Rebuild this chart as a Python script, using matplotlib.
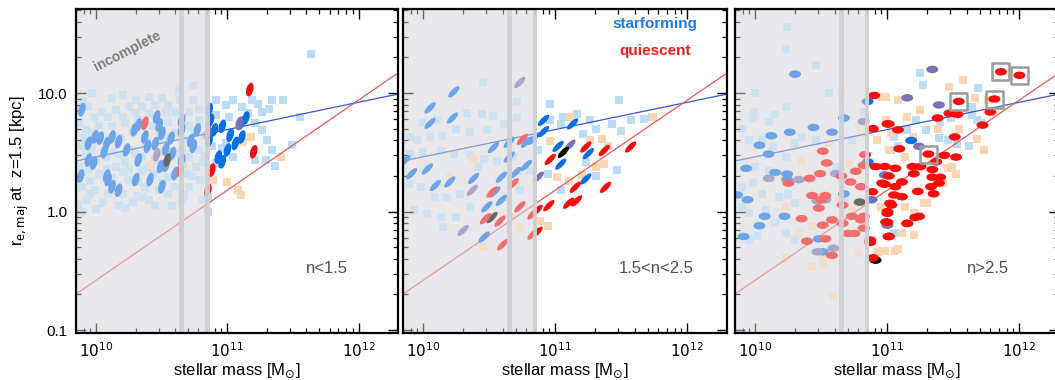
import numpy as np
import matplotlib
matplotlib.use("Agg")
import matplotlib.pyplot as plt
from matplotlib.collections import EllipseCollection
from matplotlib.ticker import FixedLocator, FixedFormatter, NullFormatter

plt.rcParams['font.family'] = ['Liberation Sans', 'DejaVu Sans']

# ---------------- data (log10 stellar mass [Msun], log10 r_e,maj [kpc]) ----------------
# Panel 1 : n<1.5
P1_SQB_LOGM = [10.74,10.74,10.64,10.55,10.45,10.35,10.25,10.15,10.04,9.94,9.99,10.09,10.20,10.30,10.40,10.53,10.60,10.71,10.78,
               9.87,9.92,10.02,10.12,10.22,10.32,10.43,10.55,10.71,10.78,9.89,9.97,10.07,10.17,10.27,10.35,10.45,10.60,10.71,10.78,
               9.87,9.94,10.02,10.15,10.25,10.35,10.43,10.55,10.68,10.76,10.81,9.89,9.99,10.09,10.20,10.25,10.37,10.48,10.60,10.71,10.79,
               10.17,10.35,10.81,10.85,10.85,9.86,
               9.90,10.12,10.30,10.50,9.90,10.05,10.18,10.38,10.52,10.66,10.83,10.00,10.22,10.55,10.66,9.95,10.12,10.32,10.50,
               9.93,10.05,10.28,10.45,10.65,
               9.97,10.20,10.40,10.62,9.97,10.28,10.48,10.60,10.75,9.92,10.12,10.30,10.52,10.65,10.83,
               9.90,10.08,10.20,10.40,10.62,10.73,9.95,10.15,10.31,10.55,10.67,9.88,10.00,10.22,10.40,10.58,
               10.91,10.99,11.04,11.11,11.19,11.23,11.26,11.34,11.32,10.91,11.01,11.16,11.21,11.26,11.30,10.88,10.99,11.04,11.21,11.29,
               11.34,10.91,10.96,11.42,11.55,11.49,11.36,11.64]
P1_SQB_LOGR = [1.07,0.94,0.94,0.90,0.90,0.885,0.885,0.86,0.84,0.885,0.80,0.80,0.80,0.83,0.83,0.83,0.84,0.84,0.87,
               0.745,0.69,0.72,0.72,0.745,0.77,0.72,0.745,0.72,0.77,0.55,0.52,0.46,0.49,0.52,0.46,0.435,0.49,0.46,0.52,
               0.38,0.35,0.32,0.38,0.35,0.35,0.32,0.295,0.32,0.38,0.41,0.21,0.18,0.15,0.15,0.27,0.21,0.18,0.21,0.21,0.27,
               0.055,0.125,0.10,0.125,0.0,0.06,
               0.93,0.95,0.94,0.96,0.62,0.60,0.63,0.58,0.62,0.60,0.64,0.43,0.42,0.45,0.40,0.26,0.28,0.25,0.24,
               0.10,0.07,0.08,0.05,0.10,
               1.00,0.98,0.97,1.02,0.66,0.67,0.68,0.66,0.68,0.48,0.50,0.49,0.50,0.52,0.47,
               0.33,0.36,0.33,0.38,0.35,0.30,0.15,0.17,0.13,0.15,0.14,0.00,0.02,0.03,0.10,0.05,
               0.94,0.90,0.94,0.885,0.94,0.91,0.84,0.94,0.87,0.815,0.80,0.83,0.745,0.69,0.60,0.55,0.575,0.46,0.435,0.435,
               0.52,0.41,0.535,0.94,0.80,0.56,0.385,1.33]
P1_SQO_LOGM = [11.12,11.18,10.42,11.41,10.89,11.00,11.08,11.10]
P1_SQO_LOGR = [0.59,0.63,0.39,0.46,0.27,0.25,0.18,0.14]
P1_SF_LOGM = [9.89,9.94,9.99,10.03,10.08,10.12,10.17,10.23,10.29,10.32,10.37,10.39,10.46,10.48,10.45,10.50,10.53,10.57,10.58,
              10.49,10.53,10.60,10.65,10.65,10.65,10.72,10.74,10.77,9.94,9.98,9.88,10.08,10.12,10.09,10.17,10.30,10.32,10.41,
              10.50,10.06,
              10.86,10.87,10.86,10.90,10.96,10.96,11.00,11.02,11.10,11.14,11.11,11.06,10.93]
P1_SF_LOGR = [0.86,0.575,0.63,0.62,0.575,0.63,0.59,0.52,0.69,0.73,0.63,0.55,0.80,0.73,0.575,0.66,0.53,0.62,0.49,
              0.38,0.39,0.32,0.77,0.69,0.435,0.60,0.55,0.69,0.435,0.41,0.30,0.30,0.21,0.27,0.18,0.27,0.435,0.27,
              0.21,0.505,
              0.86,0.77,0.60,0.69,0.72,0.42,0.52,0.645,0.745,0.79,0.63,0.575,0.46]
P1_Q_LOGM = [11.17,10.88,11.20,10.85,10.37,10.64]
P1_Q_LOGR = [1.03,0.35,0.505,0.18,0.745,0.35]
P1_MIX_LOGM = [10.46,10.85,11.09]
P1_MIX_LOGR = [0.48,0.66,0.745]
P1_BLK_LOGM = [10.54]
P1_BLK_LOGR = [0.435]

# Panel 2 : 1.5<n<2.5
P2_SQB_LOGM = [10.45,10.71,10.96,11.06,11.16,11.26,11.31,11.43,11.48,11.50,11.57,11.67,11.73,10.96,11.04,11.21,11.23,11.47,
               11.31,10.94,11.04,10.87,9.90,10.00,10.10,10.33,10.44,10.53,10.61,10.48,10.35,10.25,10.15,10.05,9.95,9.90,
               10.00,10.13,10.23,10.35,10.46,10.56,10.68,10.72,10.81,9.89,9.98,10.08,10.18,10.28,10.35,10.25,10.13,10.03,
               9.93,10.15,10.73,10.63,10.41,10.71]
P2_SQB_LOGR = [1.09,0.925,0.91,0.80,0.825,0.77,0.70,0.74,0.94,0.68,0.77,0.78,0.80,0.77,0.74,0.655,0.42,0.35,
               0.30,0.32,0.18,0.52,0.63,0.75,0.77,0.83,0.825,0.81,0.74,0.685,0.67,0.70,0.64,0.63,0.60,0.49,
               0.50,0.515,0.49,0.475,0.445,0.43,0.46,0.345,0.345,0.235,0.21,0.12,0.12,0.15,0.04,-0.05,-0.05,-0.02,
               0.01,-0.13,0.18,0.12,0.375,0.79]
P2_SQO_LOGM = [11.11,10.96,11.35,11.26,11.37,11.31,11.01,11.10,10.88,10.94,10.73,10.66,10.38,10.20,11.74,10.45,11.20,11.40]
P2_SQO_LOGR = [0.80,0.595,0.61,0.60,0.40,0.375,0.29,0.26,-0.08,-0.12,-0.13,-0.05,0.445,0.29,0.80,-0.30,0.31,0.55]
P2_SF_LOGM = [10.23,10.05,10.05,10.22,10.53,10.65,10.78,10.83,9.86,9.91,10.03,10.09,10.20,10.38,10.59,10.54,10.59,10.46,
              10.65,10.78,10.70,10.48,10.91,10.91,11.13,11.02,11.04,11.25,11.23]
P2_SF_LOGR = [1.01,0.875,0.745,0.79,0.54,0.585,0.585,0.61,0.43,0.32,0.36,0.22,0.25,0.28,0.29,0.165,0.095,-0.215,
              0.46,0.39,0.33,0.04,0.77,0.675,0.74,0.55,0.40,0.49,0.275]
P2_Q_LOGM = [11.23,11.37,11.57,10.96,11.38,11.15,11.10,11.16,10.95,10.86,10.86,
             10.75,10.52,10.68,10.73,10.58,10.47,10.83,10.83,10.60]
P2_Q_LOGR = [0.545,0.515,0.545,0.44,0.205,0.205,0.07,0.09,0.05,0.01,-0.175,
             0.61,0.165,0.235,0.04,-0.08,-0.06,-0.02,-0.19,-0.28]
P2_MIX_LOGM = [10.73,11.11,10.87,10.37,10.30]
P2_MIX_LOGR = [1.09,0.56,0.29,0.18,-0.16]
P2_BLK_LOGM = [11.06,10.52]
P2_BLK_LOGR = [0.50,-0.05]

# Panel 3 : n>2.5
P3_SQB_LOGM = [10.24,10.23,10.46,10.00,10.56,10.23,9.99,9.98,10.10,10.15,9.90,9.95,10.05,10.13,10.35,10.46,10.30,10.23,
               9.90,9.98,10.05,10.18,10.25,10.30,9.90,9.95,10.08,10.15,9.95,10.01,10.30,10.23,10.82,10.61,10.73,10.10,
               10.25,10.68,10.00,10.43,
               11.25,11.27,11.69,11.64,11.48,11.64,11.68,11.71,11.62,11.53,11.46,11.39,11.22,11.29,11.15,11.05,11.08,
               11.03,11.40,11.05]
P3_SQB_LOGR = [1.56,1.37,1.24,1.00,1.00,0.885,0.84,0.79,0.76,0.815,0.70,0.60,0.60,0.55,0.63,0.60,0.575,0.46,
               0.21,0.24,0.15,0.125,0.15,0.07,0.04,-0.015,0.01,-0.10,-0.24,-0.21,-0.24,-0.185,0.84,0.38,0.60,0.34,
               0.32,0.125,0.38,0.265,
               1.17,1.07,1.04,0.885,0.79,0.815,0.77,0.745,0.55,0.57,0.60,0.62,0.77,0.69,0.69,0.63,0.55,
               0.52,0.76,-0.185]
P3_SQO_LOGM = [10.65,10.81,10.71,10.35,10.56,10.23,10.33,10.43,10.61,10.23,10.43,10.51,10.78,10.73,10.63,10.96,10.99,
               10.92,11.01,10.95,10.96,10.59,10.23,10.51,
               11.47,11.57,11.76,11.66,11.25,11.38,11.54,11.68,11.73,11.52,11.46,11.49,11.42,11.28,11.20,11.13,11.11,
               11.20,11.06,10.98,10.99,11.08,11.15,11.19,11.03,11.13,11.30,11.08,10.93,11.20]
P3_SQO_LOGR = [1.00,0.66,0.41,0.43,0.575,0.04,-0.185,-0.13,-0.30,-0.40,-0.465,-0.41,-0.35,0.04,0.125,0.97,0.77,
               0.60,0.52,0.04,-0.33,-0.72,-0.38,-0.43,
               1.05,1.11,0.94,0.955,0.86,0.70,0.70,0.61,0.52,0.32,0.365,0.38,0.24,0.07,-0.015,0.04,-0.185,
               -0.20,-0.33,-0.33,0.97,0.94,0.80,0.63,0.66,0.46,0.07,-0.32,-0.34,-0.20]
P3_SF_LOGM = [10.30,10.67,10.44,10.58,10.26,10.12,10.03,10.10,9.93,10.15,10.24,10.24,9.86,9.94,10.07,10.22,10.03,9.91,
              10.67,10.48,10.51,10.85,10.85,11.18]
P3_SF_LOGR = [1.16,0.79,0.71,0.67,0.67,0.64,0.56,0.485,0.365,0.33,0.316,0.27,0.14,0.10,-0.04,-0.04,-0.12,-0.21,
              0.15,-0.23,-0.34,0.93,0.42,0.60]
P3_Q_LOGM = [10.51,10.54,10.49,10.41,10.25,10.65,10.72,10.76,10.82,10.83,10.80,10.43,10.53,10.66,10.48,10.50,10.35,
             10.51,10.58,10.66,10.73,10.80,10.82,10.70,10.75,10.39,10.53,10.58,10.82,
             10.90,10.89,11.00,10.91,10.96,11.01,10.885,11.02,11.00,10.99,10.87,11.01,
             11.47,11.53,11.38,11.78,11.72,11.51,11.52,11.43,11.37,11.01,11.08,11.09,11.06,11.19,11.25,11.34,11.20,
             10.98,10.98,11.11,11.06,11.34,11.40,11.39,11.33,11.23,11.35,11.05,11.11,11.03,11.00,11.24,11.15,11.00,
             11.01,11.21,11.15,11.01,10.87,10.89]
P3_Q_LOGR = [0.51,0.41,0.32,0.28,0.24,0.30,0.25,0.34,0.39,0.48,0.21,0.135,0.135,0.055,0.03,0.10,-0.06,
             -0.115,-0.07,-0.10,-0.04,-0.07,-0.14,-0.185,-0.185,-0.25,-0.23,-0.37,-0.04,
             0.98,0.70,0.74,0.38,0.24,0.30,0.167,0.07,0.0,-0.087,-0.24,-0.21,
             0.83,0.82,0.79,0.84,0.73,0.63,0.46,0.475,0.42,0.74,0.69,0.53,0.365,0.38,0.38,0.355,0.32,
             0.38,0.23,0.25,0.21,0.29,0.29,0.24,0.21,0.17,0.15,0.14,0.125,0.055,-0.015,-0.04,-0.10,-0.09,
             -0.21,-0.05,-0.10,-0.21,-0.26,-0.39]
P3_BOX_LOGM = [11.86,12.00,11.54,11.81,11.31]
P3_BOX_LOGR = [1.18,1.15,0.93,0.95,0.485]
P3_MIX_LOGM = [10.82,10.10,10.33,10.47,10.53,10.59,10.47,10.88,10.61,11.34,11.15,11.39,11.24,10.98,11.00]
P3_MIX_LOGR = [0.76,0.28,0.27,0.09,0.10,-0.31,-0.34,0.10,0.32,1.20,0.96,0.90,0.55,0.31,-0.115]
P3_BLK_LOGM = [10.79,10.91]
P3_BLK_LOGR = [0.08,-0.41]

# relations
LINE_LOGM = [9.84, 12.3]
SF_REL = (0.426, 0.23)   # log r at logM=9.84, slope
Q_REL = (-0.70, 0.76)

PANEL_LABELS = ['n<1.5', '1.5<n<2.5', 'n>2.5']

# ---------------- styling ----------------
C_SQB = '#b9ddf6'
C_SQO = '#fbd6b2'
C_SF = '#0a6fe6'
C_Q = '#ff0a0a'
C_MIX = '#7a70b4'
C_BLK = '#000000'
C_GRAY = '#e8e8eb'
C_BAND = '#cfcfd3'

XMIN, XMAX = 10**9.845, 10**12.3
YMIN, YMAX = 10**-1.025, 10**1.71

fig = plt.figure(figsize=(10.55, 3.8), dpi=100)
positions = [(76, 398), (403, 727), (735, 1059)]
axes = []
for (l, r) in positions:
    ax = fig.add_axes([l / 1055, 1 - 333 / 380, (r - l) / 1055, 324 / 380])
    axes.append(ax)


def ell(ax, logm, logr, color, w, h, ang, z):
    offs = np.column_stack([10 ** np.asarray(logm, float), 10 ** np.asarray(logr, float)])
    n = len(offs)
    ec = EllipseCollection(np.full(n, w), np.full(n, h), np.full(n, ang), units='dots',
                           offsets=offs, offset_transform=ax.transData,
                           facecolors=color, edgecolors='none', zorder=z)
    ax.add_collection(ec)


panels = [
    dict(sqb=(P1_SQB_LOGM, P1_SQB_LOGR), sqo=(P1_SQO_LOGM, P1_SQO_LOGR), sf=(P1_SF_LOGM, P1_SF_LOGR),
         q=(P1_Q_LOGM, P1_Q_LOGR), mix=(P1_MIX_LOGM, P1_MIX_LOGR), blk=(P1_BLK_LOGM, P1_BLK_LOGR),
         shape=(7, 14, -15)),
    dict(sqb=(P2_SQB_LOGM, P2_SQB_LOGR), sqo=(P2_SQO_LOGM, P2_SQO_LOGR), sf=(P2_SF_LOGM, P2_SF_LOGR),
         q=(P2_Q_LOGM, P2_Q_LOGR), mix=(P2_MIX_LOGM, P2_MIX_LOGR), blk=(P2_BLK_LOGM, P2_BLK_LOGR),
         shape=(15, 5.5, 45)),
    dict(sqb=(P3_SQB_LOGM, P3_SQB_LOGR), sqo=(P3_SQO_LOGM, P3_SQO_LOGR), sf=(P3_SF_LOGM, P3_SF_LOGR),
         q=(P3_Q_LOGM + P3_BOX_LOGM, P3_Q_LOGR + P3_BOX_LOGR), mix=(P3_MIX_LOGM, P3_MIX_LOGR),
         blk=(P3_BLK_LOGM, P3_BLK_LOGR), shape=(12, 7.5, 0)),
]

lm = np.array(LINE_LOGM)
for i, (ax, p) in enumerate(zip(axes, panels)):
    ax.set_xscale('log')
    ax.set_yscale('log')
    ax.set_xlim(XMIN, XMAX)
    ax.set_ylim(YMIN, YMAX)
    # incomplete region
    ax.axvspan(XMIN, 10**10.863, color=C_GRAY, zorder=0, lw=0)
    # squares
    ax.scatter(10**np.array(p['sqb'][0]), 10**np.array(p['sqb'][1]), marker='s', s=34, color=C_SQB, lw=0, zorder=1)
    ax.scatter(10**np.array(p['sqo'][0]), 10**np.array(p['sqo'][1]), marker='s', s=34, color=C_SQO, lw=0, zorder=1.1)
    # relations
    ax.plot(10**lm, 10**(SF_REL[0] + SF_REL[1] * (lm - 9.84)), color='#3858d0', lw=0.9, zorder=1.5)
    ax.plot(10**lm, 10**(Q_REL[0] + Q_REL[1] * (lm - 9.84)), color='#e85a5a', lw=0.9, zorder=1.5)
    w, h, a = p['shape']
    ell(ax, *p['sf'], C_SF, w, h, a, 2)
    ell(ax, *p['mix'], C_MIX, w, h, a, 2.1)
    ell(ax, *p['blk'], C_BLK, w, h, a, 2.2)
    ell(ax, *p['q'], C_Q, w, h, a, 2.3)
    if i == 2:
        ax.scatter(10**np.array(P3_BOX_LOGM), 10**np.array(P3_BOX_LOGR), marker='s', s=150,
                   facecolors='none', edgecolors='#9c9c9c', linewidths=1.8, zorder=2.5)
    # overlay lightening the incomplete region
    ax.axvspan(XMIN, 10**10.863, color=C_GRAY, alpha=0.45, zorder=3, lw=0)
    ax.axvspan(10**10.634, 10**10.672, color=C_BAND, alpha=0.9, zorder=3.1, lw=0)
    ax.axvspan(10**10.827, 10**10.863, color=C_BAND, alpha=0.9, zorder=3.1, lw=0)

    ax.text(0.78, 0.20, PANEL_LABELS[i], transform=ax.transAxes, ha='center', va='center',
            fontsize=12, color='#4c515c', zorder=5)

    # ticks
    ax.xaxis.set_major_locator(FixedLocator([1e10, 1e11, 1e12]))
    ax.xaxis.set_major_formatter(FixedFormatter(['$10^{10}$', '$10^{11}$', '$10^{12}$']))
    ax.xaxis.set_minor_locator(FixedLocator([k * 10**e for e in (9, 10, 11, 12) for k in range(2, 10)]))
    ax.xaxis.set_minor_formatter(NullFormatter())
    ax.yaxis.set_major_locator(FixedLocator([0.1, 1.0, 10.0]))
    ax.yaxis.set_minor_locator(FixedLocator([k * 10**e for e in (-1, 0, 1) for k in range(2, 10)]))
    ax.yaxis.set_minor_formatter(NullFormatter())
    if i == 0:
        ax.yaxis.set_major_formatter(FixedFormatter(['0.1', '1.0', '10.0']))
        ax.set_ylabel(r'r$_{\mathrm{e,maj}}$ at  z=1.5 [kpc]', fontsize=12, labelpad=5)
    else:
        ax.yaxis.set_major_formatter(NullFormatter())
    ax.tick_params(which='both', direction='in', top=True, right=True, colors='black', labelsize=11)
    ax.tick_params(which='major', length=7, width=1.0, pad=6)
    ax.tick_params(which='minor', length=3.5, width=0.9)
    ax.set_xlabel(r'stellar mass [M$_{\odot}$]', fontsize=12, labelpad=1)
    for s in ax.spines.values():
        s.set_linewidth(1.6)
        s.set_zorder(6)

axes[0].text(0.16, 0.87, 'incomplete', transform=axes[0].transAxes, rotation=27, ha='center', va='center',
             fontsize=10, color='#7d7d7d', fontweight='bold', zorder=5)
axes[1].text(0.778, 0.955, 'starforming', transform=axes[1].transAxes, ha='center', va='center',
             fontsize=11, color='#1f7be3', fontweight='bold', zorder=5)
axes[1].text(0.778, 0.87, 'quiescent', transform=axes[1].transAxes, ha='center', va='center',
             fontsize=11, color='#e8201e', fontweight='bold', zorder=5)

fig.savefig('out.png', dpi=100)
